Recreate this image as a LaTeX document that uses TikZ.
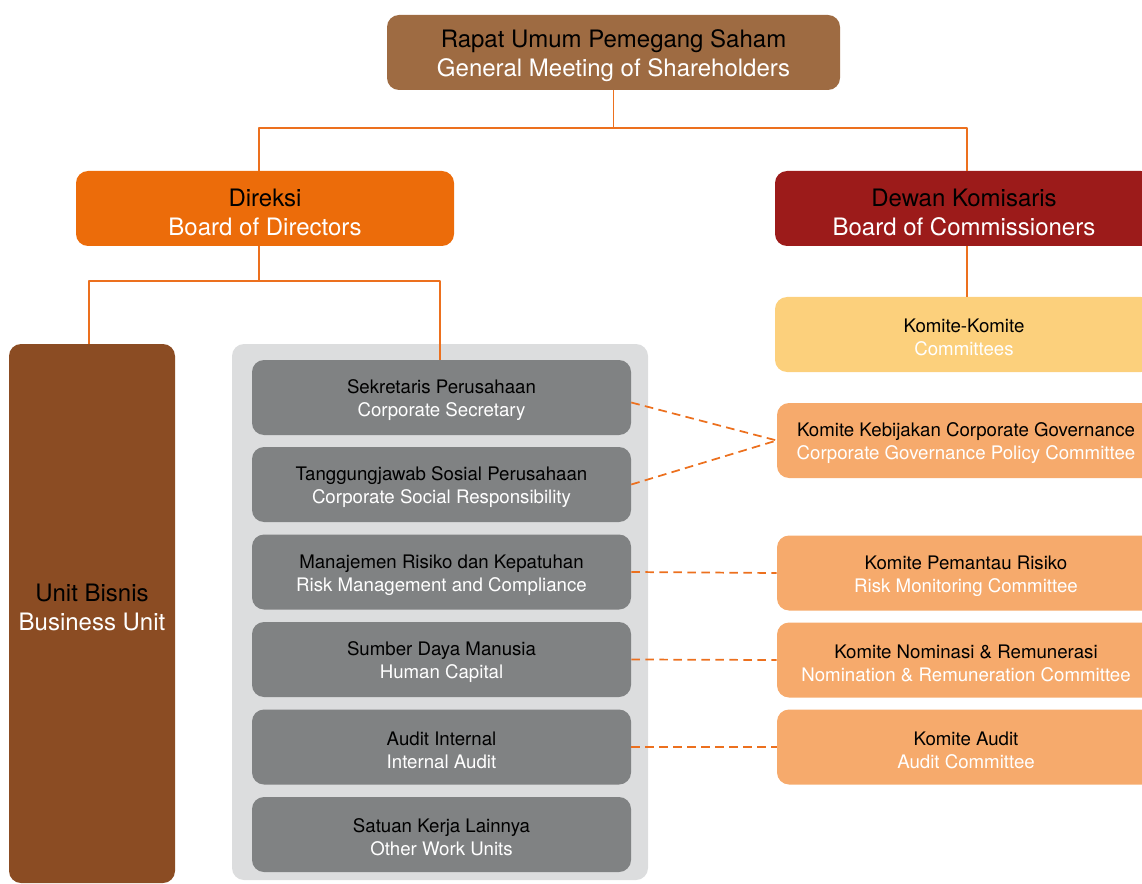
\documentclass[tikz,border=0pt]{standalone}
\usepackage{fontspec}
\setmainfont{TeX Gyre Heros}
\usepackage{xcolor}
\usepackage{tikz}
\usetikzlibrary{calc}
\newcommand{\bitext}[2]{\rule{0pt}{1.05em}#1\\\textcolor{white}{#2}}
\definecolor{gmsbrown}{RGB}{158,107,66}
\definecolor{dirorange}{RGB}{236,108,10}
\definecolor{bocred}{RGB}{156,27,26}
\definecolor{unitbrown}{RGB}{139,76,35}
\definecolor{panelgray}{RGB}{220,221,222}
\definecolor{workgray}{RGB}{128,130,131}
\definecolor{komlight}{RGB}{252,208,124}
\definecolor{komorange}{RGB}{246,170,108}
\definecolor{linkorange}{RGB}{236,112,30}
\tikzset{
  sz/.style 2 args={minimum width=#1*0.75pt, minimum height=#2*0.75pt},
  box/.style={rounded corners=9pt, align=center, inner sep=0pt, text=black},
  bigbox/.style={box, font=\fontsize{18}{21.75}\selectfont},
  smallbox/.style={box, font=\fontsize{14}{17.25}\selectfont},
  workbox/.style={smallbox, fill=workgray, sz={379}{75}},
  kombox/.style={smallbox, fill=komorange, sz={378}{75}},
  link/.style={line width=1pt, color=linkorange},
  dlink/.style={link, line width=1.3pt, dash pattern=on 6.5pt off 4pt}
}

\begin{document}
\begin{tikzpicture}[line cap=butt,line join=round,x=0.75pt,y=-0.75pt]
\useasboundingbox (0,0) rectangle (1142,884);
\clip (0,0) rectangle (1142,884);
% top levels
\node[bigbox, fill=gmsbrown, sz={453}{75}] (gms) at (613.5,52.5) {\bitext{Rapat Umum Pemegang Saham}{General Meeting of Shareholders}};
\node[bigbox, fill=dirorange, sz={378}{75}] (dir) at (265,208.5) {\bitext{Direksi}{Board of Directors}};
\node[bigbox, fill=bocred, sz={378}{75}] (boc) at (964,208.5) {\bitext{Dewan Komisaris}{Board of Commissioners}};
\node[smallbox, fill=komlight, sz={378}{75}] (komite) at (964,334.5) {\bitext{Komite-Komite}{Committees}};
% left side
\node[bigbox, fill=unitbrown, sz={166}{539}] (unit) at (92,613.5) {Unit Bisnis\\\textcolor{white}{Business Unit}\rule[-9pt]{0pt}{0pt}};
\node[box, fill=panelgray, sz={416}{536}] (panel) at (440,612) {};
\node[workbox] (sek) at (441.5,397.5) {\bitext{Sekretaris Perusahaan}{Corporate Secretary}};
\node[workbox] (csr) at (441.5,484.5) {\bitext{Tanggungjawab Sosial Perusahaan}{Corporate Social Responsibility}};
\node[workbox] (rmc) at (441.5,572) {\bitext{Manajemen Risiko dan Kepatuhan}{Risk Management and Compliance}};
\node[workbox] (hc) at (441.5,659.5) {\bitext{Sumber Daya Manusia}{Human Capital}};
\node[workbox] (ia) at (441.5,747) {\bitext{Audit Internal}{Internal Audit}};
\node[workbox] (other) at (441.5,834.5) {\bitext{Satuan Kerja Lainnya}{Other Work Units}};
% committees
\node[kombox] (kcg) at (966,440.5) {\bitext{Komite Kebijakan Corporate Governance}{Corporate Governance Policy Committee}};
\node[kombox] (kpr) at (966,573) {\bitext{Komite Pemantau Risiko}{Risk Monitoring Committee}};
\node[kombox] (knr) at (966,660) {\bitext{Komite Nominasi \& Remunerasi}{Nomination \& Remuneration Committee}};
\node[kombox] (kau) at (966,747) {\bitext{Komite Audit}{Audit Committee}};
% connectors
\coordinate (bus1) at (613.5,128);
\coordinate (bus2) at (259,281);
\draw[link] (gms.south) -- (bus1);
\draw[link] ($(dir.north)+(-6,0)$) |- (bus1) -| ($(boc.north)+(3,0)$);
\draw[link] ($(boc.south)+(3,0)$) -- ($(komite.north)+(3,0)$);
\draw[link] ($(dir.south)+(-6,0)$) -- (bus2);
\draw[link] ($(unit.north)+(-3,0)$) |- (bus2) -| ($(sek.north)+(-1.5,0)$);
\draw[dlink] ($(sek.east)+(0,5)$) -- (kcg.west);
\draw[dlink] (csr.east) -- (kcg.west);
\draw[dlink] (rmc.east) -- (kpr.west);
\draw[dlink] (hc.east) -- (knr.west);
\draw[dlink] (ia.east) -- (kau.west);
\end{tikzpicture}
\end{document}
